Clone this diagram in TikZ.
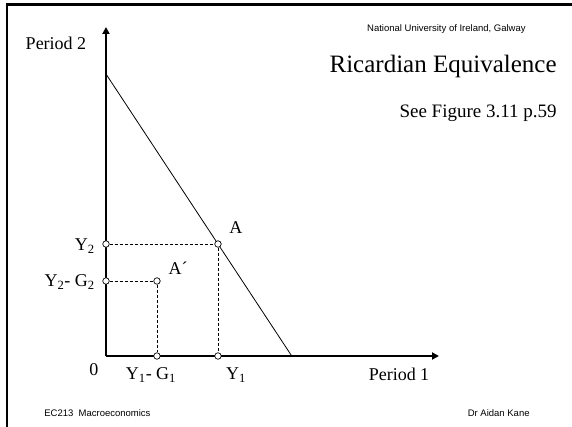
\documentclass[tikz,border=0pt]{standalone}
\usepackage{fontspec}
\setmainfont{Liberation Serif}
\newfontfamily\arialfont{Liberation Sans}
\usetikzlibrary{arrows.meta}
\begin{document}
\begin{tikzpicture}[line width=0.8pt,
    axis/.style={line width=2.2pt, -{Triangle[length=7pt,width=7pt]}},
    guide/.style={dash pattern=on 3pt off 2pt, line width=0.7pt},
    dot/.style={circle, draw, fill=white, line width=0.7pt, inner sep=0pt, minimum size=6.5pt},
    lbl/.style={font=\fontsize{18}{20}\selectfont, inner sep=1.5pt},
    small/.style={font=\arialfont\fontsize{9.5}{11}\selectfont, inner sep=0pt}]
  \useasboundingbox (-3.725,-2.495) rectangle (16.378,12.512);
  % slide frame
  \draw[line width=2.4pt] (-3.479,-2.600) -- (-3.479,12.354) -- (16.500,12.354);
  % axes
  \coordinate (o) at (0.000,0.000);
  \coordinate (ytip) at (0.000,11.563);
  \coordinate (xtip) at (11.704,0.000);
  \draw[axis] (o) -- (ytip);
  \draw[axis] (o) -- (xtip);
  % budget line
  \coordinate (b2) at (0.000,9.911);
  \coordinate (b1) at (6.528,0.000);
  \draw (b2) -- (b1);
  % points
  \node[dot] (a) at (3.936,3.936) {};
  \node[dot] (y2) at (0.000,3.936) {};
  \node[dot] (y1) at (3.936,0.000) {};
  \node[dot] (ap) at (1.792,2.636) {};
  \node[dot] (y2g2) at (0.000,2.636) {};
  \node[dot] (y1g1) at (1.792,0.000) {};
  \draw[guide] (y2) -- (a);
  \draw[guide] (a) -- (y1);
  \draw[guide] (y2g2) -- (ap);
  \draw[guide] (ap) -- (y1g1);
  % labels
  \node[lbl] (p2) at (-1.757,11.001) {Period 2};
  \node[lbl] (p1) at (10.298,-0.633) {Period 1};
  \node[lbl] (zero) at (-0.422,-0.492) {0};
  \node[lbl, anchor=east] (ly2) at (-0.330,3.860) {Y\textsubscript{2}};
  \node[lbl, anchor=east] (ly2g2) at (-0.330,2.600) {Y\textsubscript{2}- G\textsubscript{2}};
  \node[lbl] (ly1g1) at (1.582,-0.668) {Y\textsubscript{1}- G\textsubscript{1}};
  \node[lbl] (ly1) at (4.569,-0.668) {Y\textsubscript{1}};
  \node[lbl] (la) at (4.569,4.499) {A};
  \node[lbl] (lap) at (2.531,3.093) {A´};
  % slide text
  \node[small, anchor=east] (uni) at (14.761,11.493) {National University of Ireland, Galway};
  \node[font=\fontsize{25}{28}\selectfont, inner sep=0pt, anchor=east] (title) at (15.851,10.192) {Ricardian Equivalence};
  \node[font=\fontsize{19}{22}\selectfont, inner sep=0pt, anchor=east] (see) at (15.851,8.540) {See Figure 3.11 p.59};
  \node[small, anchor=west] (course) at (-2.179,-2.003) {EC213\ \ Macroeconomics};
  \node[small, anchor=east] (author) at (14.902,-2.003) {Dr Aidan Kane};
\end{tikzpicture}
\end{document}
